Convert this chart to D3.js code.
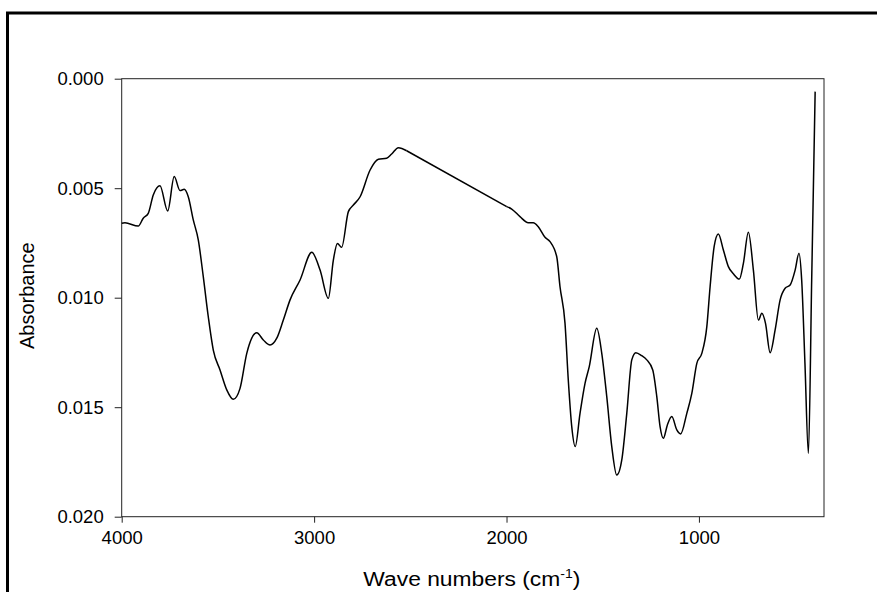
<!DOCTYPE html>
<html>
<head>
<meta charset="utf-8">
<script src="https://cdn.jsdelivr.net/npm/d3@7"></script>
<style>
  body { margin: 0; background: white; }
  svg { display: block; }
  text { font-family: "Liberation Sans", Arial, sans-serif; fill: black; }
</style>
</head>
<body>
<svg></svg>
<script>
// spectrum (wave number, absorbance)
const waveNumbers = [
  4000, 3983, 3914, 3888, 3862, 3836, 3801, 3761, 3727, 3697,
  3675, 3654, 3628, 3602, 3576, 3550, 3524, 3489, 3454, 3420,
  3385, 3350, 3298, 3264, 3229, 3194, 3160, 3125, 3073, 3012,
  2969, 2926, 2900, 2879, 2857, 2822, 2796, 2761, 2709, 2666,
  2623, 2597, 2562, 2519, 1999, 1973, 1930, 1887, 1861, 1835,
  1800, 1774, 1739, 1722, 1696, 1679, 1661, 1643, 1618, 1592,
  1570, 1531, 1505, 1479, 1453, 1427, 1401, 1375, 1349, 1328,
  1297, 1271, 1240, 1219, 1202, 1185, 1164, 1141, 1115, 1095,
  1063, 1037, 1011, 985, 959, 942, 921, 899, 873, 847,
  820, 790, 769, 743, 717, 691, 673, 654, 630, 604,
  578, 552, 526, 500, 480, 466, 449, 431, 414, 396
];
const absorbance = [
  0.00660, 0.00658, 0.00673, 0.00637, 0.00615, 0.00531, 0.00489, 0.00604, 0.00447, 0.00511,
  0.00505, 0.00539, 0.00645, 0.00736, 0.00904, 0.01087, 0.01239, 0.01330, 0.01421, 0.01464,
  0.01414, 0.01254, 0.01160, 0.01193, 0.01216, 0.01185, 0.01102, 0.01010, 0.00919, 0.00793,
  0.00874, 0.01003, 0.00828, 0.00752, 0.00770, 0.00607, 0.00577, 0.00539, 0.00417, 0.00368,
  0.00363, 0.00344, 0.00315, 0.00329, 0.00584, 0.00595, 0.00630, 0.00658, 0.00658, 0.00676,
  0.00724, 0.00744, 0.00813, 0.00950, 0.01117, 0.01376, 0.01589, 0.01680, 0.01528, 0.01391,
  0.01315, 0.01140, 0.01254, 0.01452, 0.01680, 0.01810, 0.01741, 0.01528, 0.01284, 0.01251,
  0.01265, 0.01284, 0.01330, 0.01452, 0.01589, 0.01642, 0.01581, 0.01543, 0.01604, 0.01622,
  0.01528, 0.01437, 0.01300, 0.01254, 0.01132, 0.00950, 0.00767, 0.00709, 0.00782, 0.00858,
  0.00892, 0.00915, 0.00843, 0.00701, 0.00874, 0.01102, 0.01071, 0.01117, 0.01251, 0.01147,
  0.01010, 0.00957, 0.00942, 0.00874, 0.00797, 0.00919, 0.01300, 0.01711, 0.00919, 0.00059
];
const xTicks = [4000, 3000, 2000, 1000];
const yTicks = [0, 0.005, 0.010, 0.015, 0.020];

const width = 877;
const height = 592;
const plot = { left: 121.7, right: 824, top: 78.7, bottom: 516.7 };

const svg = d3.select('svg').attr('width', width).attr('height', height);

// outer frame, runs off the right and bottom edges
svg.append('rect')
  .attr('x', 7.5).attr('y', 13)
  .attr('width', 900).attr('height', 700)
  .style('fill', 'none').style('stroke', 'black').style('stroke-width', 3);

const x = d3.scaleLinear().domain([4000, 350]).range([plot.left, plot.right]);
const y = d3.scaleLinear().domain([0, 0.020]).range([plot.top, plot.bottom]);

// plot box
svg.append('rect')
  .attr('x', plot.left).attr('y', plot.top)
  .attr('width', plot.right - plot.left).attr('height', plot.bottom - plot.top)
  .style('fill', 'none').style('stroke', '#222').style('stroke-width', 1);

const xAxis = svg.append('g')
  .attr('transform', `translate(0,${plot.bottom})`)
  .call(d3.axisBottom(x).tickValues(xTicks).tickFormat(d3.format('d')).tickSize(6).tickPadding(8));
const yAxis = svg.append('g')
  .attr('transform', `translate(${plot.left},0)`)
  .call(d3.axisLeft(y).tickValues(yTicks).tickFormat(d3.format('.3f')).tickSize(7).tickPadding(11));

[xAxis, yAxis].forEach(g => {
  g.select('.domain').remove();
  g.selectAll('line').style('stroke', '#222');
  g.selectAll('text').style('font-size', '18.5px').style('font-family', '"Liberation Sans", Arial, sans-serif');
});

// spectrum: smooth pieces, with the straight stretch between 2519 and 1999
const points = waveNumbers.map((w, i) => [w, absorbance[i]]);
const gap = waveNumbers.indexOf(2519);
const smooth = d3.line().x(d => x(d[0])).y(d => y(d[1])).curve(d3.curveMonotoneX);
const straight = d3.line().x(d => x(d[0])).y(d => y(d[1]));
[
  [points.slice(0, gap + 1), smooth],
  [points.slice(gap, gap + 2), straight],
  [points.slice(gap + 1), smooth]
].forEach(([part, gen]) => {
  svg.append('path')
    .datum(part)
    .attr('d', gen)
    .style('fill', 'none').style('stroke', 'black').style('stroke-width', 1.5);
});

// axis titles
const xTitle = svg.append('text')
  .attr('transform', `translate(${(plot.left + plot.right) / 2 - 1},586) scale(1.17,1)`)
  .attr('text-anchor', 'middle')
  .style('font-size', '19.5px');
xTitle.append('tspan').text('Wave numbers (cm');
xTitle.append('tspan').attr('dy', -8).style('font-size', '12px').text('-1');
xTitle.append('tspan').attr('dy', 8).text(')');

svg.append('text')
  .attr('transform', `translate(33.5,${(plot.top + plot.bottom) / 2 - 2}) rotate(-90)`)
  .attr('text-anchor', 'middle')
  .style('font-size', '20px')
  .text('Absorbance');
</script>
</body>
</html>
